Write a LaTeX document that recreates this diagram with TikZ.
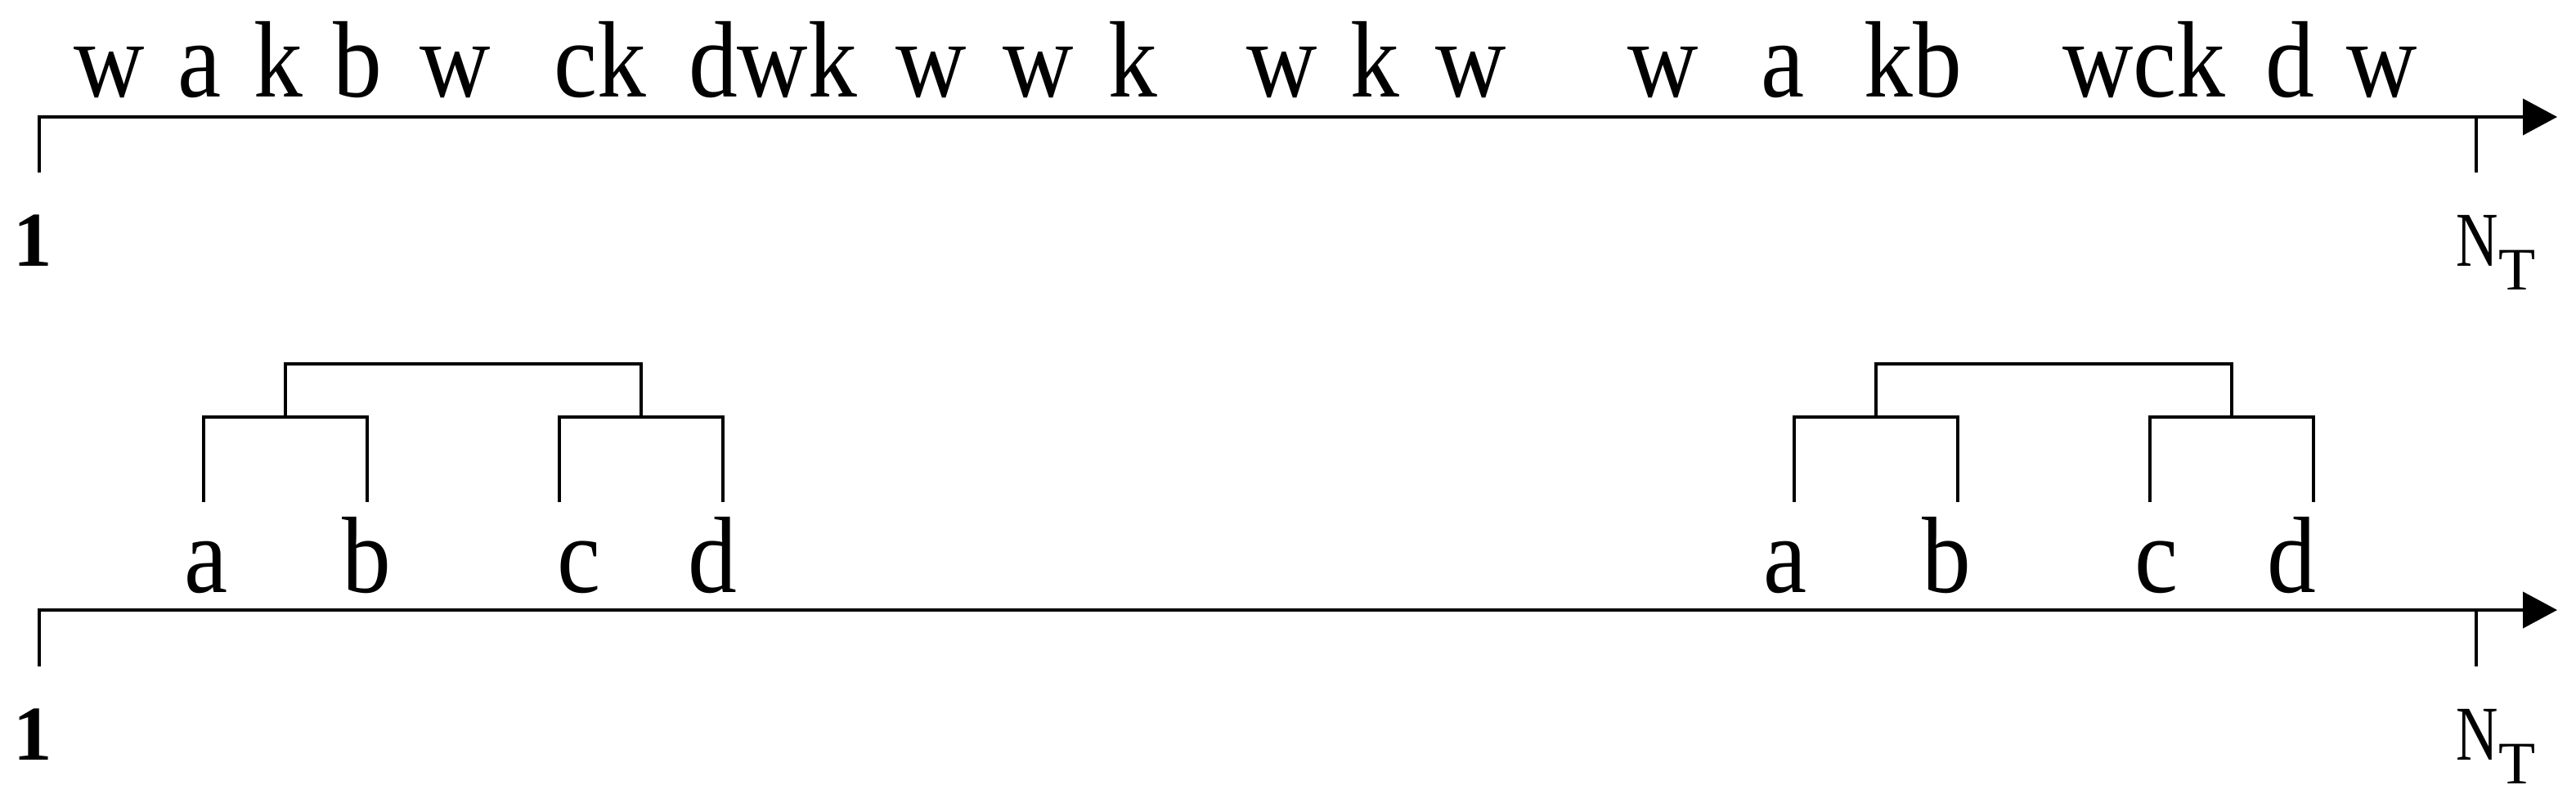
\documentclass[tikz,border=0pt]{standalone}
\usepackage{fontspec}
\setmainfont{Liberation Serif}
\newfontfamily\seqfont[FakeStretch=0.9]{Liberation Serif}
\usetikzlibrary{arrows.meta}
\begin{document}
\begin{tikzpicture}[
  seq/.style={anchor=base,inner sep=0pt,font=\seqfont\fontsize{37.8}{40}\selectfont},
  lbl/.style={anchor=base,inner sep=0pt,font=\fontsize{27}{30}\selectfont},
  axis/.style={line width=1.2pt,-{Triangle[length=4.2mm,width=4.4mm]}},
  tree/.style={line width=1pt}]
\useasboundingbox (0,0) rectangle (31.5,9.81);
% upper line: the whole sequence
\coordinate (s1) at (0.48,7.70);
\coordinate (e1) at (31.27,8.38);
\coordinate (n1) at (30.28,8.38);
\draw[axis] (s1) |- (e1);
\draw[line width=1pt] (n1) -- ++(0,-0.68);
\node[lbl] (one1) at (0.405,6.55) {\textbf{1}};
\node[lbl,anchor=base west] (nt1) at (30.03,6.55) {\scalebox{0.75}[1]{N}\raisebox{-0.29cm}{\fontsize{21}{22}\selectfont T}};
\foreach \x/\t [count=\i] in {1.34/w,2.44/a,3.40/k,4.37/b,5.57/w,7.34/ck,9.45/dwk,
  11.39/w,12.70/w,13.85/k,15.68/w,16.81/k,17.99/w,20.34/w,21.80/a,23.39/kb,26.22/wck,28.00/d,29.13/w}
  \node[seq] (w\i) at (\x,8.62) {\t};
% lower line: the two motifs
\coordinate (s2) at (0.48,1.66);
\coordinate (e2) at (31.27,2.35);
\coordinate (n2) at (30.28,2.35);
\draw[axis] (s2) |- (e2);
\draw[line width=1pt] (n2) -- ++(0,-0.69);
\node[lbl] (one2) at (0.405,0.52) {\textbf{1}};
\node[lbl,anchor=base west] (nt2) at (30.03,0.52) {\scalebox{0.75}[1]{N}\raisebox{-0.29cm}{\fontsize{21}{22}\selectfont T}};
\foreach \x/\t [count=\i] in {2.52/a,4.48/b,7.08/c,8.71/d,21.83/a,23.80/b,26.37/c,28.02/d}
  \node[seq] (m\i) at (\x,2.57) {\t};
% dendrograms
\foreach \s/\n in {0/l,19.45/r}{
  \begin{scope}[xshift=\s cm]
    \coordinate (\n a) at (2.49,3.67);
    \coordinate (\n b) at (4.49,3.67);
    \coordinate (\n c) at (6.84,3.67);
    \coordinate (\n d) at (8.84,3.67);
    \coordinate (\n ab) at (3.49,4.71);
    \coordinate (\n cd) at (7.84,4.71);
    \draw[tree] (\n a) -- ++(0,1.04) -| (\n b);
    \draw[tree] (\n c) -- ++(0,1.04) -| (\n d);
    \draw[tree] (\n ab) -- ++(0,0.65) -| (\n cd);
  \end{scope}
}
\end{tikzpicture}
\end{document}
